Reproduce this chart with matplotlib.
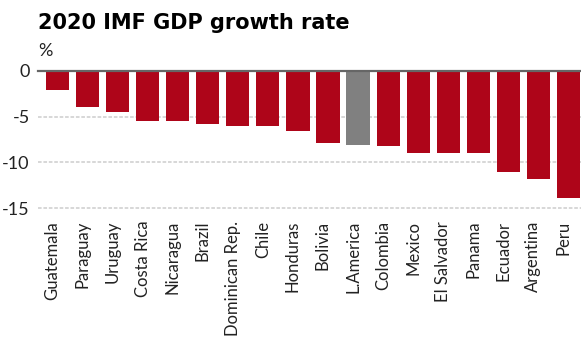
import matplotlib.pyplot as plt
import matplotlib.transforms as mtransforms
import numpy as np

# data
countries = ['Guatemala', 'Paraguay', 'Uruguay', 'Costa Rica', 'Nicaragua',
             'Brazil', 'Dominican Rep.', 'Chile', 'Honduras', 'Bolivia',
             'L.America', 'Colombia', 'Mexico', 'El Salvador', 'Panama',
             'Ecuador', 'Argentina', 'Peru']
growth = [-2.1, -4.0, -4.5, -5.5, -5.5, -5.8, -6.0, -6.0, -6.6, -7.9,
          -8.1, -8.2, -9.0, -9.0, -9.0, -11.0, -11.8, -13.9]
y_ticks = [0, -5, -10, -15]

RED = '#ae0519'
GREY = '#808080'
label_font = ['Lato', 'DejaVu Sans']

fig = plt.figure(figsize=(5.81, 3.40), dpi=100)
ax = fig.add_axes([38 / 581, 1 - 208.3 / 340, 1 - 38 / 581,
                   (208.3 - 70.7) / 340])

x = np.arange(len(countries))
colors = [GREY if c == 'L.America' else RED for c in countries]
ax.bar(x, growth, width=0.77, color=colors, zorder=2)

# grid lines and zero line
for t in y_ticks[1:]:
    ax.axhline(t, color='#d4d4d4', lw=1.3, ls=(0, (2, 1)), zorder=1,
               clip_on=False)
ax.axhline(0, color='#666666', lw=1.6, zorder=3, clip_on=False)

ax.set_xlim(-0.65, len(countries) - 1 + 0.42)
ax.set_ylim(-15, 0)
for s in ax.spines.values():
    s.set_visible(False)

ax.set_yticks(y_ticks)
ax.set_yticklabels([str(t) for t in y_ticks], family=label_font,
                   fontsize=13, color='#222222')
ax.tick_params(axis='y', length=0, pad=6)

ax.set_xticks(x)
ax.set_xticklabels(countries, rotation=90, family=label_font, fontsize=12,
                   color='#222222', va='top', ha='center')
ax.tick_params(axis='x', length=0, pad=9)
offset = mtransforms.ScaledTranslation(-5 / 100, 0, fig.dpi_scale_trans)
for lab in ax.get_xticklabels():
    lab.set_transform(lab.get_transform() + offset)

# title and unit
fig.text(38 / 581, 1 - 28.7 / 340, '2020 IMF GDP growth rate',
         fontsize=15, fontweight='heavy', family='DejaVu Sans',
         va='baseline')
fig.text(38 / 581, 1 - 55.5 / 340, '%', fontsize=13, family=label_font,
         color='#222222', va='baseline')

plt.savefig('out.png', dpi=100)
plt.close()
